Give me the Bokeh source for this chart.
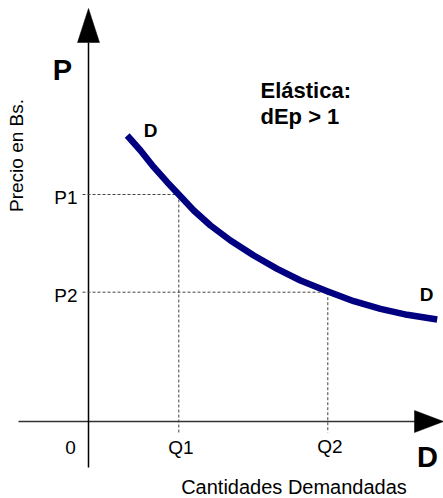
from bokeh.plotting import figure
from bokeh.models import Range1d
from bokeh.embed import file_html
from bokeh.resources import INLINE
from bokeh.core.properties import value
import math

# ---- data (quantity, price) ----
q_curve = [3.87, 5.2, 6.53, 7.87, 9.03, 10.53, 12.2, 14.2, 16.53, 18.87, 21.2, 23.87, 26.53, 29.2, 31.87, 34.87]
p_curve = [28.6, 27.1, 25.43, 23.93, 22.7, 21.1, 19.6, 18.1, 16.6, 15.27, 14.1, 13.03, 12.03, 11.27, 10.67, 10.2]

q_levels = [9.03, 23.93]        # Q1, Q2
p_levels = [22.7, 12.93]        # P1, P2
q_labels = ["Q1", "Q2"]
p_labels = ["P1", "P2"]
origin_label = "0"

x_title = "Cantidades Demandadas"
y_title = "Precio en Bs."
note_lines = ["Elástica:", "dEp > 1"]
curve_label = "D"

# ---- geometry of the drawing ----
X0, X1 = -8.8, 35.5
Y0, Y1 = -7.7, 42.1
FONT = value("Liberation Sans")

p = figure(width=443, height=498, x_range=Range1d(X0, X1), y_range=Range1d(Y0, Y1),
           output_backend="svg", toolbar_location=None, min_border=0)
p.axis.visible = False
p.grid.visible = False
p.outline_line_color = None
p.background_fill_color = "white"
p.border_fill_color = "white"

# axes with arrow heads
xa_start, xa_end, xa_tip, head_h = -7.0, 32.8, 35.5, 1.1
ya_start, ya_end, ya_tip, head_w = -4.6, 37.9, 41.3, 1.1
p.line([xa_start, xa_end], [0, 0], line_color="#333333", line_width=1.5)
p.patch([xa_end - 0.2, xa_tip, xa_end - 0.2], [head_h, 0, -head_h], fill_color="black", line_color="black", line_width=0.5)
p.line([0, 0], [ya_start, ya_end], line_color="black", line_width=1.5)
p.patch([-head_w, 0, head_w], [ya_end, ya_tip, ya_end], fill_color="black", line_color="black", line_width=0.5)

# dashed guide lines
tick_left = -0.6
drop_to = -1.1
for q, pr in zip(q_levels, p_levels):
    p.line([tick_left, q], [pr, pr], line_color="#444444", line_width=1, line_dash="3 2")
    p.line([q, q], [pr, drop_to], line_color="#444444", line_width=1, line_dash="3 2")

# demand curve
p.line(q_curve, p_curve, line_color="#000080", line_width=6.5, line_cap="butt", line_join="round")

# tick labels
p.text(x=[-1.1] * len(p_levels), y=[v - 0.28 for v in p_levels], text=p_labels,
       text_align="right", text_baseline="alphabetic", text_font=FONT, text_font_size="19px", text_color="black")
p.text(x=[q + 0.2 for q in q_levels], y=[-2.63, -2.53], text=q_labels,
       text_align="center", text_baseline="alphabetic", text_font=FONT, text_font_size="19px", text_color="black")
p.text(x=[-1.8], y=[-2.63], text=[origin_label],
       text_align="center", text_baseline="alphabetic", text_font=FONT, text_font_size="19px", text_color="black")

# axis letters
p.text(x=[-2.6], y=[35.12], text=["P"], text_align="center", text_baseline="alphabetic",
       text_font=FONT, text_font_style="bold", text_font_size="29px", text_color="black")
p.text(x=[33.9], y=[-3.58], text=["D"], text_align="center", text_baseline="alphabetic",
       text_font=FONT, text_font_style="bold", text_font_size="29px", text_color="black")

# axis titles
p.text(x=[-7.17], y=[26.6], text=[y_title], angle=math.pi / 2, text_align="center", text_baseline="alphabetic",
       text_font=FONT, text_font_size="19px", text_color="black")
p.text(x=[20.55], y=[-6.5], text=[x_title], text_align="center", text_baseline="alphabetic",
       text_font=FONT, text_font_size="20px", text_color="black")

# curve labels
p.text(x=[6.2, 33.8], y=[29.07, 12.67], text=[curve_label, curve_label], text_align="center",
       text_baseline="alphabetic", text_font=FONT, text_font_style="bold", text_font_size="19px", text_color="black")

# note
p.text(x=[17.2, 17.2], y=[33.07, 30.47], text=note_lines, text_align="left", text_baseline="alphabetic",
       text_font=FONT, text_font_style="bold", text_font_size="22px", text_color="black")

open("out.html", "w").write(file_html(p, INLINE))
